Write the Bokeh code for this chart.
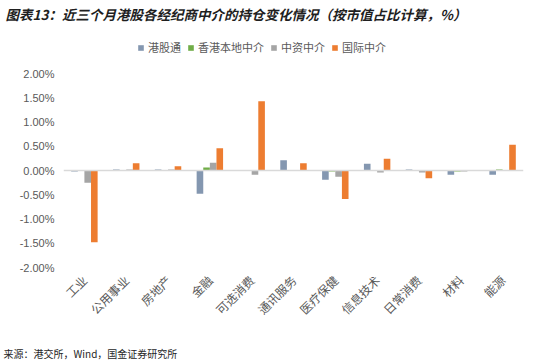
from math import pi
from bokeh.plotting import figure
from bokeh.layouts import column
from bokeh.models import (ColumnDataSource, FactorRange, Range1d, FixedTicker, PrintfTickFormatter,
                          Span, Legend, LegendItem)
from bokeh.core.properties import value
from bokeh.transform import dodge
from bokeh.embed import file_html
from bokeh.resources import INLINE

categories = ["工业", "公用事业", "房地产", "金融", "可选消费", "通讯服务",
              "医疗保健", "信息技术", "日常消费", "材料", "能源"]
ggt = [-0.02, 0.02, 0.02, -0.48, 0.00, 0.21, -0.19, 0.14, 0.02, -0.09, -0.09]   # 港股通
hk_local = [0.00, 0.00, 0.00, 0.06, 0.00, 0.01, -0.02, 0.00, 0.00, -0.02, 0.02]  # 香港本地中介
cn_broker = [-0.25, 0.02, 0.02, 0.16, -0.09, 0.01, -0.13, -0.04, -0.04, -0.02, 0.00]  # 中资中介
intl = [-1.48, 0.15, 0.09, 0.46, 1.43, 0.15, -0.59, 0.24, -0.16, 0.00, 0.53]  # 国际中介
series_names = ["港股通", "香港本地中介", "中资中介", "国际中介"]
colors = ["#8497B0", "#70AD47", "#A5A5A5", "#ED7D31"]
y_ticks = [-2.0, -1.5, -1.0, -0.5, 0.0, 0.5, 1.0, 1.5, 2.0]
title_text = "图表13：近三个月港股各经纪商中介的持仓变化情况（按市值占比计算，%）"
source_text = "来源：港交所，Wind，国金证券研究所"

CJK = "Noto Sans CJK SC"
RULE = "#41719C"
W = 550


def blank_fig(h, fill="white"):
    f = figure(width=W, height=h, x_range=Range1d(0, W), y_range=Range1d(h, 0),
               x_axis_type=None, y_axis_type=None, title=None,
               output_backend="svg", toolbar_location=None, tools="",
               min_border_left=0, min_border_right=0,
               min_border_top=0, min_border_bottom=0, outline_line_color=None,
               background_fill_color=fill, border_fill_color=fill,
               frame_align=False)
    f.grid.visible = False
    return f


# header: title
HH = 24
head = blank_fig(HH)
head.text(x=[5], y=[13], text=[title_text], text_font=value(CJK), text_font_size="13.5px",
          text_font_style="bold italic", text_color="#1F1F1F", text_baseline="middle")
rule_top = blank_fig(2, RULE)

# main chart (frame spans the legend strip above the 2.00% level)
MH = 314
FRAME_H = MH - 73
y_top = -2.0 + 4.0 * FRAME_H / 194.0
src = ColumnDataSource(dict(cat=categories, ggt=ggt, hk=hk_local, cn=cn_broker, intl=intl))
p = figure(width=W, height=MH, x_range=FactorRange(*categories), y_range=Range1d(-2.0, y_top),
           output_backend="svg", toolbar_location=None, tools="", title=None,
           min_border_left=63, min_border_right=27, min_border_top=0, min_border_bottom=73,
           frame_align=False)
p.outline_line_color = None
p.xgrid.grid_line_color = None
p.ygrid.grid_line_color = None

bw = 0.158
offsets = [-1.5 * bw, -0.5 * bw, 0.5 * bw, 1.5 * bw]
fields = ["ggt", "hk", "cn", "intl"]
renderers = []
for f, off, c in zip(fields, offsets, colors):
    r = p.vbar(x=dodge("cat", off, range=p.x_range), top=f, width=bw, source=src,
               fill_color=c, line_color=None)
    renderers.append(r)

p.add_layout(Span(location=0, dimension="width", line_color="#D9D9D9", line_width=1.5))

p.yaxis.ticker = FixedTicker(ticks=y_ticks)
p.yaxis.formatter = PrintfTickFormatter(format="%.2f%%")
p.yaxis.axis_line_color = None
p.yaxis.major_tick_line_color = None
p.yaxis.minor_tick_line_color = None
p.yaxis.major_tick_out = 0
p.yaxis.major_label_text_color = "#595959"
p.yaxis.major_label_text_font = "Liberation Sans"
p.yaxis.major_label_text_font_size = "11px"
p.yaxis.major_label_standoff = 9

p.xaxis.axis_line_color = None
p.xaxis.major_tick_line_color = None
p.xaxis.minor_tick_line_color = None
p.xaxis.major_tick_out = 0
p.xaxis.major_label_orientation = pi / 4
p.xaxis.major_label_text_color = "#595959"
p.xaxis.major_label_text_font = CJK
p.xaxis.major_label_text_font_size = "12px"
p.xaxis.major_label_standoff = 10

legend = Legend(items=[LegendItem(label=n, renderers=[r]) for n, r in zip(series_names, renderers)],
                orientation="horizontal", location=(74, FRAME_H - 29),
                label_text_font=CJK, label_text_font_size="11px", label_text_color="#595959",
                glyph_width=7, glyph_height=7, label_standoff=4, spacing=6,
                padding=0, margin=0, border_line_color=None, background_fill_alpha=0,
                label_height=14)
p.add_layout(legend, "center")

# footer: rule + source
rule_bottom = blank_fig(2, RULE)
FH = 21
foot = blank_fig(FH)
foot.text(x=[3], y=[10.5], text=[source_text], text_font=value(CJK), text_font_size="10px",
          text_color="#262626", text_baseline="middle")

layout = column(head, rule_top, p, rule_bottom, foot, spacing=0)
open("out.html", "w").write(file_html(layout, INLINE))
